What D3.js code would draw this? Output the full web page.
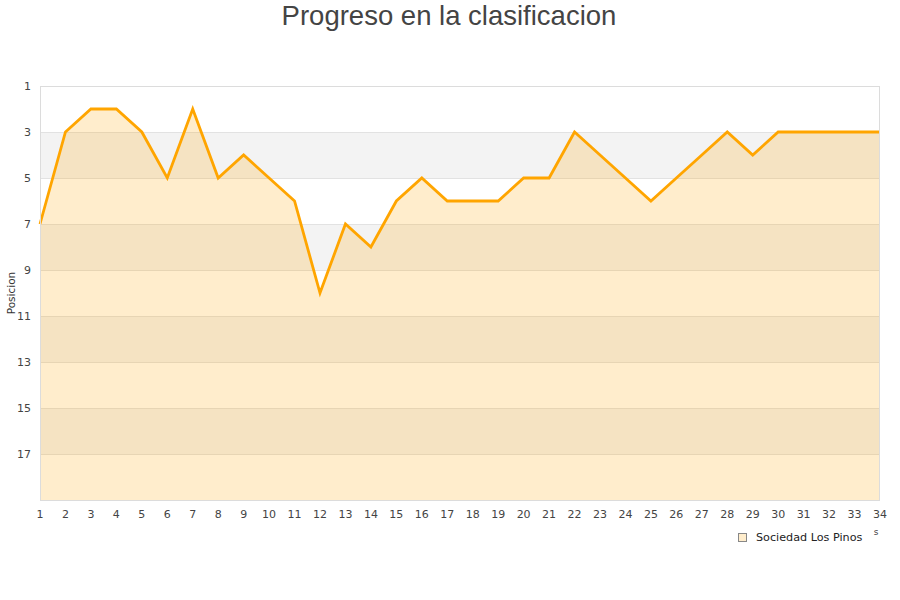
<!DOCTYPE html>
<html><head><meta charset="utf-8">
<script src="https://cdn.jsdelivr.net/npm/d3@7"></script>
<style>body{margin:0;background:#fff}svg{display:block}</style>
</head><body>
<svg id="c" width="900" height="600"></svg>
<script>
const title = "Progreso en la clasificacion";
const seriesName = "Sociedad Los Pinos";
const yLabel = "Posicion";
const jornadas = [1,2,3,4,5,6,7,8,9,10,11,12,13,14,15,16,17,18,19,20,21,22,23,24,25,26,27,28,29,30,31,32,33,34];
const posiciones = [7,3,2,2,3,5,2,5,4,5,6,10,7,8,6,5,6,6,6,5,5,3,4,5,6,5,4,3,4,3,3,3,3,3];
const yTicks = [1,3,5,7,9,11,13,15,17];
const yBands = [1,3,5,7,9,11,13,15,17];

const svg = d3.select("#c");
const m = {l:40, r:880, t:86, b:500};
const x = d3.scaleLinear().domain([1,34]).range([m.l, m.r]);
const y = d3.scaleLinear().domain([1,19]).range([m.t, m.b]);

svg.append("text").attr("x",449).attr("y",25).attr("text-anchor","middle")
  .attr("font-family","Liberation Sans, Arial, sans-serif").attr("font-size",27.5).attr("fill","#444").text(title);

// bands
svg.selectAll("rect.band").data(yBands).enter().append("rect")
  .attr("x",m.l).attr("width",m.r-m.l)
  .attr("y",d=>y(d)).attr("height",d=>y(d+2)-y(d))
  .attr("fill",(d,i)=> i%2===1 ? "#f3f3f3" : "#ffffff");

// grid
svg.selectAll("line.grid").data(yTicks.slice(1)).enter().append("line")
  .attr("x1",m.l).attr("x2",m.r).attr("y1",d=>y(d)).attr("y2",d=>y(d))
  .attr("stroke","#e2e2e2").attr("stroke-width",1).attr("shape-rendering","crispEdges");

// area
const area = d3.area().x((d,i)=>x(jornadas[i])).y0(m.b).y1(d=>y(d));
svg.append("path").datum(posiciones).attr("d",area).attr("fill","rgba(255,165,0,0.2)");
const line = d3.line().x((d,i)=>x(jornadas[i])).y(d=>y(d));
svg.append("path").datum(posiciones).attr("d",line).attr("fill","none")
  .attr("stroke","#ffa500").attr("stroke-width",2.8).attr("stroke-linejoin","miter");

// border
svg.append("rect").attr("x",m.l+0.5).attr("y",m.t+0.5).attr("width",m.r-m.l-1).attr("height",m.b-m.t)
  .attr("fill","none").attr("stroke","#dcdcdc").attr("shape-rendering","crispEdges");

// y axis labels
svg.selectAll("text.yt").data(yTicks).enter().append("text")
  .attr("x",31).attr("y",d=>y(d)+4).attr("text-anchor","end")
  .attr("font-family","DejaVu Sans, sans-serif").attr("font-size",11).attr("fill","#444").text(d=>d);
svg.append("text").attr("transform","translate(15,293) rotate(-90)").attr("text-anchor","middle")
  .attr("font-family","DejaVu Sans, sans-serif").attr("font-size",10.5).attr("fill","#333").text(yLabel);

// x axis labels
svg.selectAll("text.xt").data(jornadas).enter().append("text")
  .attr("x",d=>x(d)).attr("y",518).attr("text-anchor","middle")
  .attr("font-family","DejaVu Sans, sans-serif").attr("font-size",11).attr("fill","#444").text(d=>d);

// clipped axis title remnant
svg.append("text").attr("x",876).attr("y",535).attr("text-anchor","middle")
  .attr("font-family","DejaVu Sans, sans-serif").attr("font-size",9).attr("fill","#444").text("s");

// legend
svg.append("rect").attr("x",738.5).attr("y",533.5).attr("width",8).attr("height",8)
  .attr("fill","#ffedcc").attr("stroke","#888");
svg.append("text").attr("x",756).attr("y",541).attr("font-family","DejaVu Sans, sans-serif")
  .attr("font-size",11.2).attr("fill","#222").text(seriesName);
</script>
</body></html>
